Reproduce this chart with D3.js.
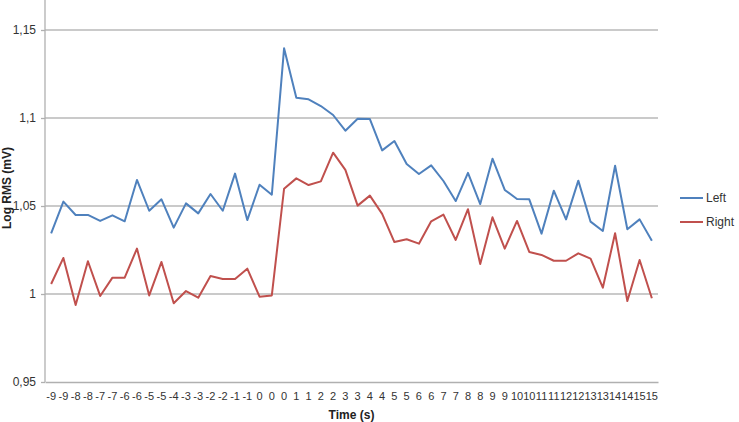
<!DOCTYPE html>
<html><head><meta charset="utf-8">
<script src="https://cdn.jsdelivr.net/npm/d3@7"></script>
<style>body{margin:0;background:#fff}svg{display:block}</style>
</head><body>
<script>
const categories = ["-9","-9","-8","-8","-7","-7","-6","-6","-5","-5","-4","-3","-3","-2","-2","-1","-1","0","0","0",
"1","1","2","2","3","3","4","4","5","5","6","6","7","7","8","8","9","9","10","10","11","11","12","12","13","13","14","14","15","15"];
const leftValues = [1.0345,1.0525,1.0449,1.0449,1.0415,1.0447,1.0413,1.0648,1.0473,1.0538,1.0377,1.0515,1.0458,1.0568,1.0473,1.0684,1.042,1.0621,1.0564,1.1396,
1.1115,1.1106,1.1068,1.1017,1.0928,1.0996,1.0994,1.0816,1.0869,1.0739,1.0682,1.0731,1.0642,1.0528,1.0688,1.0511,1.0769,1.0591,1.054,1.0538,
1.0343,1.0587,1.0424,1.0644,1.0411,1.0358,1.0729,1.0368,1.0424,1.0303];
const rightValues = [1.0057,1.0205,0.9938,1.0186,0.9989,1.0093,1.0093,1.0258,0.9992,1.0182,0.9947,1.0017,0.9979,1.0102,1.0085,1.0085,1.0144,0.9985,0.9992,1.0598,
1.0657,1.0619,1.064,1.0803,1.0705,1.0502,1.0559,1.0455,1.0295,1.0311,1.0286,1.0413,1.0451,1.0307,1.0482,1.017,1.0436,1.0258,1.0415,1.0239,
1.0222,1.0189,1.0189,1.0231,1.0201,1.0036,1.0345,0.996,1.0193,0.9976];
const yTicks = [0.95,1,1.05,1.1,1.15];
const seriesNames = ["Left","Right"];
const colors = ["#4f81bd","#c0504d"];

const W=739,H=422;
const svg=d3.select("body").append("svg").attr("width",W).attr("height",H);
const font="'Liberation Sans', Arial, sans-serif";
const x=d3.scaleBand().domain(d3.range(categories.length)).range([45,658]);
const y=d3.scaleLinear().domain([0.95,1.15]).range([382,30]);

// gridlines
svg.append("g").selectAll("line").data(yTicks.slice(1)).join("line")
 .attr("x1",45).attr("x2",658).attr("y1",d=>y(d)).attr("y2",d=>y(d))
 .attr("stroke","#b8b8b8").attr("stroke-width",1.3);

// y axis
const yAxis=svg.append("g").attr("transform","translate(45,0)")
 .call(d3.axisLeft(y).tickValues(yTicks).tickSize(4).tickPadding(5)
   .tickFormat(d=>d3.format("")(d).replace(".",",")));
yAxis.select(".domain").remove();
yAxis.append("line").attr("x1",0).attr("x2",0).attr("y1",0).attr("y2",382).attr("stroke","#b0b0b0").attr("stroke-width",1.3);
yAxis.selectAll(".tick line").attr("stroke","#b0b0b0").attr("stroke-width",1.3);
yAxis.selectAll("text").attr("font-family",font).attr("font-size",12).attr("fill","#333");

// x axis
const xAxis=svg.append("g").attr("transform","translate(0,382)")
 .call(d3.axisBottom(x).tickSize(0).tickPadding(10).tickFormat(i=>categories[i]));
xAxis.select(".domain").attr("stroke","#b0b0b0").attr("stroke-width",1.3);
xAxis.selectAll("text").attr("font-family",font).attr("font-size",11).attr("fill","#333");

// lines
const line=vals=>d3.line().x((d,i)=>x(i)+x.bandwidth()/2).y(d=>y(d))(vals);
[leftValues,rightValues].forEach((vals,k)=>{
 svg.append("path").attr("d",line(vals)).attr("fill","none")
  .attr("stroke",colors[k]).attr("stroke-width",2).attr("stroke-linejoin","round");
});

// legend
seriesNames.forEach((n,k)=>{
 const ly=198+k*24;
 svg.append("line").attr("x1",680).attr("x2",703).attr("y1",ly).attr("y2",ly).attr("stroke",colors[k]).attr("stroke-width",2);
 svg.append("text").attr("x",706).attr("y",ly).attr("dy","0.35em").attr("font-family",font).attr("font-size",12).attr("fill","#333").text(n);
});

// titles
svg.append("text").attr("x",351.5).attr("y",419).attr("text-anchor","middle").attr("font-family",font)
 .attr("font-size",12).attr("font-weight","bold").attr("fill","#222").text("Time (s)");
svg.append("text").attr("transform","translate(11,188) rotate(-90)").attr("text-anchor","middle").attr("font-family",font)
 .attr("font-size",12).attr("font-weight","bold").attr("fill","#222").text("Log RMS (mV)");
</script>
</body></html>
